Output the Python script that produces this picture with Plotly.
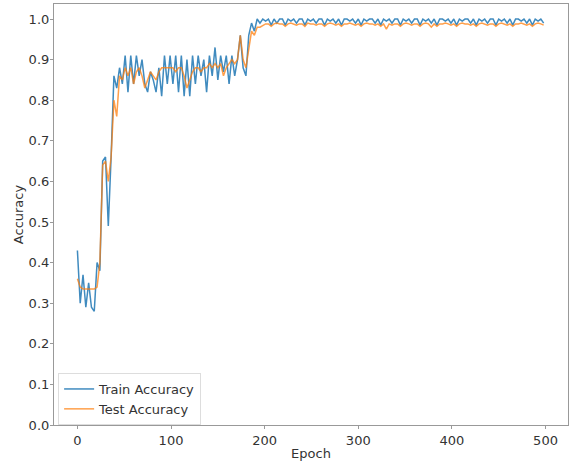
import plotly.graph_objects as go

epochs = list(range(0, 500, 3))

train_acc = [
    0.43, 0.30, 0.37, 0.29, 0.35, 0.29, 0.28, 0.40, 0.38, 0.65,
    0.66, 0.49, 0.66, 0.86, 0.83, 0.88, 0.84, 0.91, 0.82, 0.91,
    0.84, 0.91, 0.86, 0.90, 0.84, 0.82, 0.87, 0.85, 0.82, 0.88,
    0.81, 0.91, 0.84, 0.91, 0.84, 0.91, 0.82, 0.91, 0.81, 0.90,
    0.81, 0.91, 0.84, 0.91, 0.86, 0.90, 0.82, 0.91, 0.86, 0.93,
    0.85, 0.91, 0.87, 0.91, 0.84, 0.91, 0.86, 0.90, 0.96, 0.88,
    0.86, 0.96, 0.99, 0.97, 1.00, 0.99, 1.00, 0.995, 1.00, 0.985,
    1.00, 0.99, 1.00, 1.00, 0.985, 1.00, 0.995, 1.00, 0.99, 1.00,
    1.00, 0.985, 1.00, 0.995, 1.00, 0.99, 1.00, 1.00, 0.985, 1.00,
    0.995, 1.00, 0.99, 1.00, 0.985, 1.00, 1.00, 0.995, 1.00, 0.99,
    1.00, 0.985, 1.00, 0.995, 1.00, 1.00, 0.99, 1.00, 0.985, 1.00,
    0.995, 1.00, 0.99, 1.00, 1.00, 0.985, 1.00, 0.995, 1.00, 0.99,
    1.00, 1.00, 0.985, 1.00, 0.995, 1.00, 0.99, 1.00, 0.985, 1.00,
    1.00, 0.995, 1.00, 0.99, 1.00, 0.985, 1.00, 0.995, 1.00, 1.00,
    0.99, 1.00, 0.985, 1.00, 0.995, 1.00, 0.99, 1.00, 1.00, 0.985,
    1.00, 0.995, 1.00, 0.99, 1.00, 0.985, 1.00, 1.00, 0.995, 1.00,
    0.99, 1.00, 0.985, 1.00, 0.995, 1.00, 0.99,
]

test_acc = [
    0.36, 0.34, 0.335, 0.335, 0.335, 0.335, 0.335, 0.34, 0.40, 0.64,
    0.65, 0.60, 0.66, 0.80, 0.76, 0.86, 0.85, 0.88, 0.86, 0.88,
    0.84, 0.87, 0.88, 0.86, 0.83, 0.85, 0.87, 0.86, 0.85, 0.87,
    0.88, 0.88, 0.88, 0.88, 0.88, 0.87, 0.88, 0.88, 0.86, 0.83,
    0.85, 0.87, 0.88, 0.88, 0.87, 0.88, 0.88, 0.89, 0.88, 0.89,
    0.88, 0.89, 0.86, 0.88, 0.89, 0.90, 0.89, 0.90, 0.96, 0.90,
    0.88, 0.93, 0.97, 0.96, 0.98, 0.98, 0.985, 0.988, 0.988, 0.982,
    0.988, 0.99, 0.988, 0.988, 0.982, 0.988, 0.99, 0.988, 0.985, 0.988,
    0.988, 0.982, 0.99, 0.988, 0.988, 0.985, 0.988, 0.988, 0.982, 0.988,
    0.99, 0.988, 0.985, 0.988, 0.982, 0.988, 0.988, 0.99, 0.988, 0.985,
    0.988, 0.982, 0.988, 0.99, 0.988, 0.988, 0.985, 0.988, 0.982, 0.988,
    0.975, 0.988, 0.985, 0.988, 0.988, 0.982, 0.988, 0.99, 0.988, 0.985,
    0.988, 0.988, 0.982, 0.988, 0.99, 0.988, 0.98, 0.988, 0.982, 0.988,
    0.988, 0.99, 0.988, 0.985, 0.988, 0.982, 0.988, 0.99, 0.988, 0.988,
    0.985, 0.988, 0.982, 0.988, 0.99, 0.988, 0.985, 0.988, 0.988, 0.982,
    0.988, 0.99, 0.988, 0.985, 0.988, 0.982, 0.988, 0.988, 0.99, 0.988,
    0.985, 0.988, 0.982, 0.988, 0.99, 0.988, 0.985,
]

series_names = ["Train Accuracy", "Test Accuracy"]
x_ticks = [0, 100, 200, 300, 400, 500]
y_ticks = [0.0, 0.1, 0.2, 0.3, 0.4, 0.5, 0.6, 0.7, 0.8, 0.9, 1.0]

fig = go.Figure()
fig.add_trace(go.Scatter(x=epochs, y=train_acc, mode="lines", name=series_names[0],
                         line=dict(color="#1f77b4", width=1.5), opacity=0.85))
fig.add_trace(go.Scatter(x=epochs, y=test_acc, mode="lines", name=series_names[1],
                         line=dict(color="#ff7f0e", width=1.5), opacity=0.75))

axis_common = dict(showgrid=False, zeroline=False, showline=True, linecolor="#999999",
                   linewidth=1.2, mirror=True, ticks="outside", ticklen=3,
                   tickcolor="#999999", tickfont=dict(size=13, color="#333333"),
                   title_font=dict(size=13, color="#333333"))

fig.update_xaxes(range=[-25, 524], tickvals=x_ticks, title_text="Epoch",
                 title_standoff=2, **axis_common)
fig.update_yaxes(range=[0, 1.037], tickvals=y_ticks, tickformat=".1f",
                 title_text="Accuracy", title_standoff=2, ticklabelstandoff=-2,
                 **axis_common)

fig.update_layout(
    width=571, height=461,
    margin=dict(l=54, r=2, t=4, b=34),
    paper_bgcolor="white", plot_bgcolor="white",
    font=dict(family="DejaVu Sans", size=13, color="#333333"),
    legend=dict(x=0.008, y=0.0, xanchor="left", yanchor="bottom",
                bgcolor="rgba(255,255,255,0.9)", bordercolor="#dddddd", borderwidth=1,
                font=dict(size=13, color="#333333"), tracegroupgap=0),
)

fig.write_html("out.html")
